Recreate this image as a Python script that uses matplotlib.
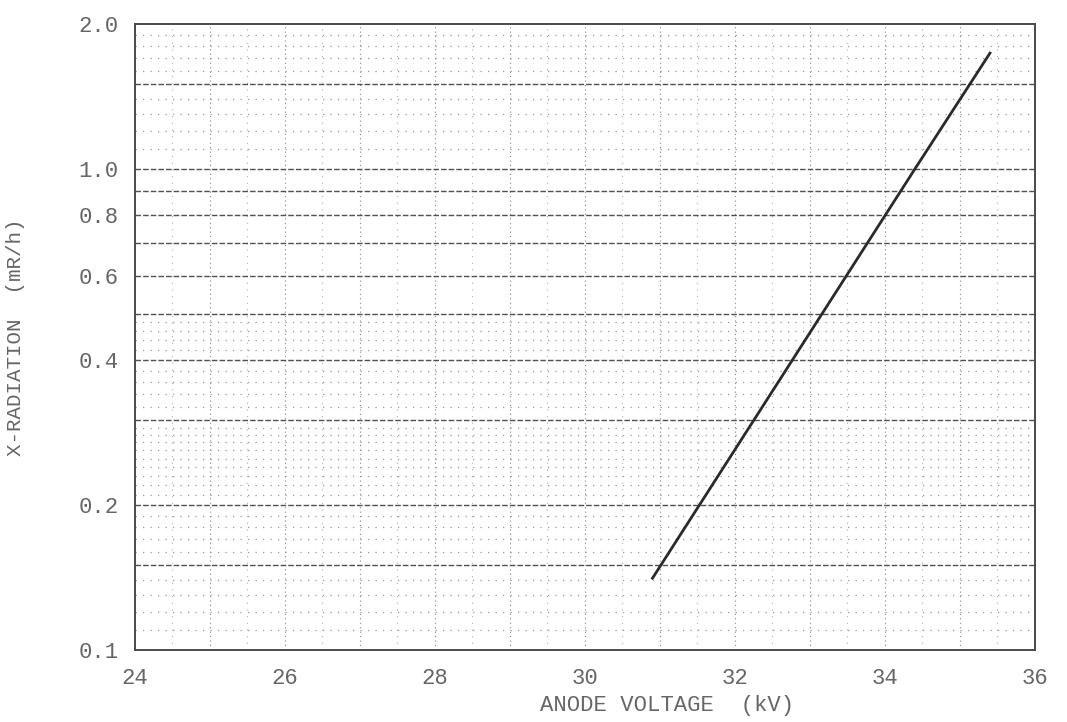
import numpy as np
import matplotlib
matplotlib.use('Agg')
import matplotlib.pyplot as plt

# values
voltaje = [30.9, 34.4, 35.4]          # kV
radiacion = [0.141, 1.0, 1.74]        # mR/h

x_ticks = [24, 26, 28, 30, 32, 34, 36]
y_ticks = [0.1, 0.2, 0.4, 0.6, 0.8, 1.0, 2.0]
y_tick_labels = ['0.1', '0.2', '0.4', '0.6', '0.8', '1.0', '2.0']

# graph paper rulings
lineas_fuertes = [0.1, 0.15, 0.2, 0.3, 0.4, 0.5, 0.6, 0.7, 0.8, 0.9, 1.0, 1.5]
lineas_punteadas = ([0.11, 0.12, 0.13, 0.14, 0.16, 0.17, 0.18, 0.19]
                    + [0.21, 0.22, 0.23, 0.24, 0.25, 0.26, 0.27, 0.28, 0.29]
                    + [0.32, 0.34, 0.36, 0.38, 0.42, 0.44, 0.46, 0.48]
                    + [1.1, 1.2, 1.3, 1.4, 1.6, 1.7, 1.8, 1.9])

fuente = 'Liberation Mono'
gris = '#666666'

fig = plt.figure(figsize=(10.67, 7.22), dpi=100)
ax = fig.add_axes([0.1265, 0.0997, 0.8435, 0.8671])
ax.set_yscale('log')
ax.set_xlim(24, 36)
ax.set_ylim(0.1, 2.0)

for v in np.arange(24.5, 36, 0.5):
    fuerte = abs(v - round(v)) < 1e-6
    ax.axvline(v, color='#888888' if fuerte else '#b0b0b0',
               lw=0.8, ls=(0, (1, 3)) if fuerte else (0, (1, 5)), zorder=1)
for y in lineas_punteadas:
    ax.axhline(y, color='#999999', lw=0.9, ls=(0, (1, 5)), zorder=1)
for y in lineas_fuertes:
    ax.axhline(y, color='#505050', lw=1.0, ls=(0, (4, 1.5)), zorder=1)

ax.plot(voltaje, radiacion, color='#2a2a2a', lw=2.0, zorder=3)

ax.set_xticks(x_ticks)
ax.set_xticklabels([str(t) for t in x_ticks])
ax.set_yticks(y_ticks)
ax.set_yticklabels(y_tick_labels)
ax.yaxis.set_minor_locator(matplotlib.ticker.NullLocator())
ax.tick_params(axis='both', length=0, colors=gris, labelsize=16)
ax.tick_params(axis='x', pad=13)
ax.tick_params(axis='y', pad=12)
for lab in ax.get_xticklabels() + ax.get_yticklabels():
    lab.set_family(fuente)

for s in ax.spines.values():
    s.set_color('#4a4a4a')
    s.set_linewidth(1.4)

ax.set_xlabel('ANODE VOLTAGE  (kV)', family=fuente, fontsize=16, color=gris)
ax.xaxis.set_label_coords(0.591, -0.072)
ax.set_ylabel('X-RADIATION  (mR/h)', family=fuente, fontsize=15, color=gris)
ax.yaxis.set_label_coords(-0.122, 0.5)

plt.savefig('out.png', dpi=100)
